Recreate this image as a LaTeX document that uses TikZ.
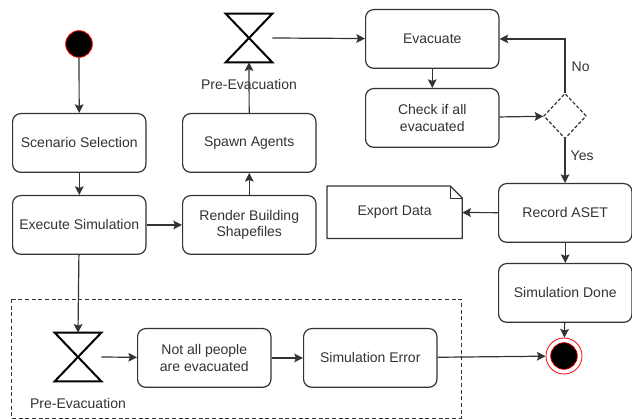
\documentclass[tikz,border=0pt]{standalone}
\usepackage{fontspec}
\setmainfont{Liberation Sans}
\usetikzlibrary{arrows.meta,shapes.geometric,calc}
\definecolor{ln}{HTML}{333333}
\definecolor{tx}{HTML}{333333}
\definecolor{rd}{HTML}{FF0000}
\begin{document}
\begin{tikzpicture}[x=0.75pt,y=-0.75pt,
  every node/.style={font=\fontsize{10.5}{12.5}\selectfont, text=tx},
  act/.style={draw=ln, line width=0.9pt, rounded corners=6pt, fill=white, minimum width=100pt, minimum height=44pt, align=center, inner sep=0pt, anchor=north west},
  conn/.style={draw=ln, line width=0.9pt, -{Stealth[length=6.5pt,width=6.5pt,inset=1.2pt]}},
  hourglass/.style={minimum width=34.5pt, minimum height=36pt, inner sep=0pt,
    append after command={\pgfextra{\draw[line width=1.5pt, black, line join=miter]
      (\tikzlastnode.north west)--(\tikzlastnode.north east)--(\tikzlastnode.south west)--(\tikzlastnode.south east)--cycle;}}},
  lbl/.style={font=\fontsize{10.5}{12.5}\selectfont}
]
\useasboundingbox (0,0) rectangle (632,420);
% dashed region
\draw[dashed, ln, line width=0.7pt, dash pattern=on 3pt off 2pt] (11,299) rectangle (461,418);

% start
\node[circle, fill=black, draw=rd, line width=0.6pt, minimum size=20pt, inner sep=0pt] (start) at (79,44) {};

\node[act] (scen) at (12,113) {Scenario Selection};
\node[act] (exec) at (12,195) {Execute Simulation};
\node[act] (rend) at (182,195) {Render Building\\Shapefiles};
\node[act] (spawn) at (182,113) {Spawn Agents};
\node[hourglass] (hg1) at (249,38) {};
\node[lbl] (pe1) at (249,84) {Pre-Evacuation};
\node[act] (evac) at (365,9) {Evacuate};
\node[act] (check) at (365,88) {Check if all\\evacuated};
\node[diamond, draw=ln, dashed, dash pattern=on 2.5pt off 1.5pt, line width=0.9pt, minimum width=32pt, minimum height=34pt, inner sep=0pt, aspect=1] (dec) at (565,116) {};
\node[lbl, anchor=west] (no) at (567,67) {No};
\node[lbl, anchor=west] (yes) at (566,156) {Yes};
\node[act] (rec) at (498,183) {Record ASET};
\node[act] (done) at (498,263) {Simulation Done};
% export data (note shape)
\node[minimum width=101pt, minimum height=39pt, inner sep=0pt, anchor=north west] (exp) at (327,186) {Export Data};
\draw[ln, line width=0.9pt, line join=round] (exp.north west) -- ($(exp.north east)+(-12,0)$) -- ($(exp.north east)+(0,12)$) -- (exp.south east) -- (exp.south west) -- cycle;
\draw[ln, line width=0.7pt] ($(exp.north east)+(-12,0)$) -- ($(exp.north east)+(-12,12)$) -- ($(exp.north east)+(0,12)$);

\node[hourglass] (hg2) at (78,357) {};
\node[lbl] (pe2) at (78,403) {Pre-Evacuation};
\node[act] (notall) at (137,328) {Not all people\\are evacuated};
\node[act] (err) at (303,328) {Simulation Error};

% end
\node[circle, draw=rd, line width=0.6pt, fill=white, minimum size=27pt, inner sep=0pt] (endo) at (564,356) {};
\node[circle, fill=black, draw=rd, line width=0.5pt, minimum size=20pt, inner sep=0pt] (end) at (564,356) {};

% connectors
\draw[conn] (start) -- (scen);
\draw[conn] (scen) -- (exec);
\draw[conn] (exec) -- (rend);
\draw[conn] (rend) -- (spawn);
\draw[conn] (spawn) -- (hg1.south);
\draw[conn] (hg1.east) -- (evac);
\draw[conn] (evac) -- (check);
\draw[conn] (check) -- (dec);
\draw[conn] (dec.north) |- (evac.east);
\draw[conn] (dec.south) -- (rec.north -| dec.south);
\draw[conn] (rec) -- (exp);
\draw[conn] (rec) -- (done);
\draw[conn] (done) -- (endo);
\draw[conn] (exec) -- (hg2.north);
\draw[conn] (hg2.east) -- (notall);
\draw[conn] (notall) -- (err);
\draw[conn] (err) -- (endo);
\end{tikzpicture}
\end{document}
